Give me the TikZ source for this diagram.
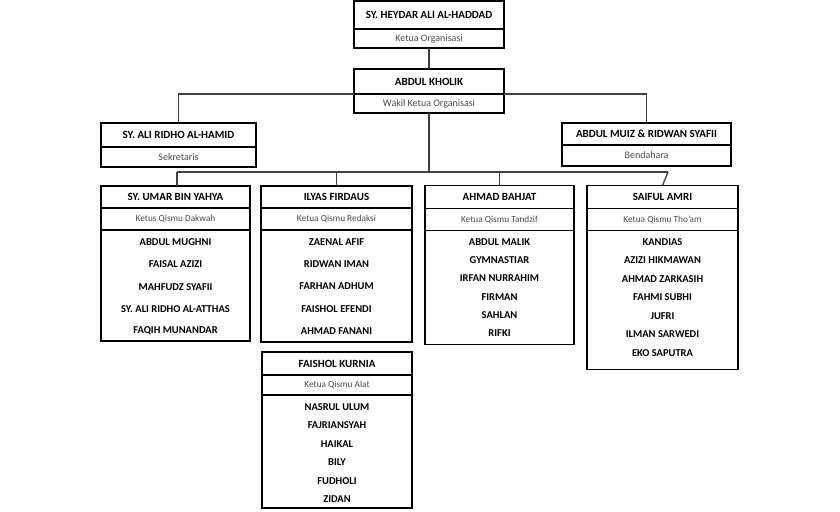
\documentclass[tikz,border=0pt]{standalone}
\usepackage{fontspec}
\setmainfont{Carlito}
\begin{document}
\begin{tikzpicture}[x=1pt,y=-1pt,
  sec/.style={draw=black, line width=1.6pt, fill=white, inner sep=0pt, outer sep=0pt, rectangle},
  ttl/.style={font=\fontsize{11}{13}\selectfont\bfseries, text=black},
  sub/.style={font=\fontsize{10}{12}\selectfont, text=black!70},
  subs/.style={font=\fontsize{9.3}{11}\selectfont, text=black!70},
  mem/.style={font=\fontsize{10.5}{12}\selectfont\bfseries, text=black, inner sep=0pt},
  conn/.style={draw=black!75, line width=1.3pt}
]
\useasboundingbox (0,0) rectangle (840,511);
\fill[white] (0,0) rectangle (840,511);

\coordinate (busL) at (177,172);
\coordinate (busR) at (668,172);

% Top box
\node[sec, ttl, minimum width=150pt, minimum height=28pt] (t1) at (429,15) {SY. HEYDAR ALI AL-HADDAD};
\node[sec, sub, minimum width=150pt, minimum height=19pt, anchor=north] (t1s) at (t1.south) {Ketua Organisasi};

% Second box
\node[sec, ttl, minimum width=150pt, minimum height=25pt] (t2) at (429,81.5) {ABDUL KHOLIK};
\node[sec, sub, minimum width=150pt, minimum height=19pt, anchor=north] (t2s) at (t2.south) {Wakil Ketua Organisasi};

% Sekretaris
\node[sec, ttl, minimum width=155pt, minimum height=24pt] (sk) at (178.5,135) {SY. ALI RIDHO AL-HAMID};
\node[sec, sub, minimum width=155pt, minimum height=20pt, anchor=north] (sks) at (sk.south) {Sekretaris};

% Bendahara
\node[sec, ttl, minimum width=169pt, minimum height=22pt] (bd) at (646.5,134) {ABDUL MUIZ \& RIDWAN SYAFII};
\node[sec, sub, minimum width=169pt, minimum height=21pt, anchor=north] (bds) at (bd.south) {Bendahara};

% Dakwah
\node[sec, ttl, minimum width=149pt, minimum height=22pt] (q1) at (175.5,197) {SY. UMAR BIN YAHYA};
\node[sec, subs, minimum width=149pt, minimum height=22pt, anchor=north] (q1s) at (q1.south) {Ketus Qismu Dakwah};
\node[sec, minimum width=149pt, minimum height=111pt, anchor=north] (q1l) at (q1s.south) {};
\foreach \n [count=\i] in {ABDUL MUGHNI, FAISAL AZIZI, MAHFUDZ SYAFII, SY. ALI RIDHO AL-ATTHAS, FAQIH MUNANDAR}
  \node[mem] (q1m\i) at (175.5,{242+(\i-1)*22.3}) {\n};

% Redaksi
\node[sec, ttl, minimum width=151pt, minimum height=22pt] (q2) at (336.5,197) {ILYAS FIRDAUS};
\node[sec, subs, minimum width=151pt, minimum height=22pt, anchor=north] (q2s) at (q2.south) {Ketua Qismu Redaksi};
\node[sec, minimum width=151pt, minimum height=112pt, anchor=north] (q2l) at (q2s.south) {};
\foreach \n [count=\i] in {ZAENAL AFIF, RIDWAN IMAN, FARHAN ADHUM, FAISHOL EFENDI, AHMAD FANANI}
  \node[mem] (q2m\i) at (336.5,{242+(\i-1)*22.3}) {\n};

% Tandzif
\node[sec, ttl, minimum width=149pt, minimum height=23pt] (q3) at (499.5,197) {AHMAD BAHJAT};
\node[sec, subs, minimum width=149pt, minimum height=22pt, anchor=north] (q3s) at (q3.south) {Ketua Qismu Tandzif};
\node[sec, minimum width=149pt, minimum height=114pt, anchor=north] (q3l) at (q3s.south) {};
\foreach \n [count=\i] in {ABDUL MALIK, GYMNASTIAR, IRFAN NURRAHIM, FIRMAN, SAHLAN, RIFKI}
  \node[mem] (q3m\i) at (499.5,{242+(\i-1)*18.25}) {\n};

% Tho'am
\node[sec, ttl, minimum width=151pt, minimum height=23pt] (q4) at (662.5,197) {SAIFUL AMRI};
\node[sec, subs, minimum width=151pt, minimum height=22pt, anchor=north] (q4s) at (q4.south) {Ketua Qismu Tho’am};
\node[sec, minimum width=151pt, minimum height=139pt, anchor=north] (q4l) at (q4s.south) {};
\foreach \n [count=\i] in {KANDIAS, AZIZI HIKMAWAN, AHMAD ZARKASIH, FAHMI SUBHI, JUFRI, ILMAN SARWEDI, EKO SAPUTRA}
  \node[mem] (q4m\i) at (662.5,{242+(\i-1)*18.5}) {\n};

% Alat
\node[sec, ttl, minimum width=150pt, minimum height=23pt] (q5) at (337,363.5) {FAISHOL KURNIA};
\node[sec, subs, minimum width=150pt, minimum height=20pt, anchor=north] (q5s) at (q5.south) {Ketua Qismu Alat};
\node[sec, minimum width=150pt, minimum height=113pt, anchor=north] (q5l) at (q5s.south) {};
\foreach \n [count=\i] in {NASRUL ULUM, FAJRIANSYAH, HAIKAL, BILY, FUDHOLI, ZIDAN}
  \node[mem] (q5m\i) at (337,{407+(\i-1)*18.4}) {\n};

% connectors
\draw[conn] (t1s.south) -- (t2.north);
\draw[conn] (t2s.south) -- (t2s.south |- busL);
\draw[conn] (busL) -- (busR);
\draw[conn] (sk.north) |- (t2.south west);
\draw[conn] (bd.north) |- (t2.south east);
\draw[conn] (busL) -- (busL |- q1.north);
\draw[conn] (q2.north |- busL) -- (q2.north);
\draw[conn] (q3.north |- busL) -- (q3.north);
\draw[conn] (busR) -- (q4.north);
\end{tikzpicture}
\end{document}
